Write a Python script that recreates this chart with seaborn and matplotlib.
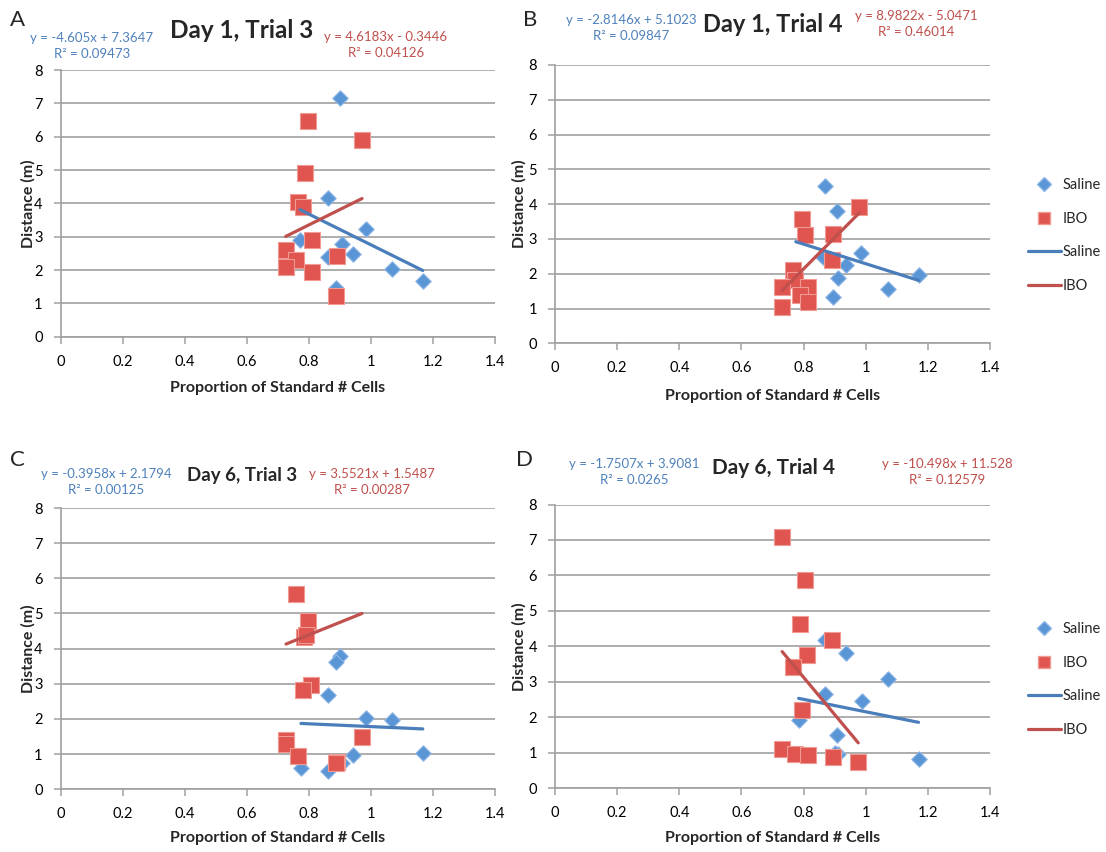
import numpy as np
import pandas as pd
import matplotlib
matplotlib.use("Agg")
import matplotlib.pyplot as plt
from matplotlib.lines import Line2D
import seaborn as sns

# ---------------- data ----------------
panel_letters = ["A", "B", "C", "D"]
panel_titles = ["Day 1, Trial 3", "Day 1, Trial 4", "Day 6, Trial 3", "Day 6, Trial 4"]

saline_x_A = [0.900, 0.862, 0.984, 0.772, 0.908, 0.862, 0.943, 1.070, 1.168, 0.889]
saline_y_A = [7.16, 4.17, 3.24, 2.91, 2.79, 2.39, 2.49, 2.04, 1.67, 1.45]
ibo_x_A = [0.797, 0.972, 0.788, 0.765, 0.780, 0.810, 0.726, 0.760, 0.726, 0.810, 0.891, 0.889]
ibo_y_A = [6.46, 5.90, 4.91, 4.04, 3.89, 2.91, 2.61, 2.31, 2.09, 1.94, 2.42, 1.22]

saline_x_B = [0.869, 0.906, 0.986, 0.938, 0.912, 0.896, 1.071, 1.170, 0.864, 0.775]
saline_y_B = [4.52, 3.81, 2.59, 2.25, 1.87, 1.34, 1.55, 1.96, 2.49, 2.00]
ibo_x_B = [0.979, 0.795, 0.805, 0.896, 0.890, 0.766, 0.773, 0.731, 0.813, 0.789, 0.813, 0.731]
ibo_y_B = [3.93, 3.56, 3.11, 3.14, 2.39, 2.11, 1.82, 1.61, 1.61, 1.39, 1.20, 1.03]

saline_x_C = [0.900, 0.889, 0.862, 0.984, 1.070, 1.168, 0.943, 0.908, 0.862, 0.775]
saline_y_C = [3.80, 3.63, 2.68, 2.02, 1.97, 1.04, 0.98, 0.74, 0.53, 0.60]
ibo_x_C = [0.759, 0.799, 0.786, 0.808, 0.781, 0.727, 0.727, 0.765, 0.972, 0.891, 0.790, 0.889]
ibo_y_C = [5.55, 4.79, 4.32, 2.97, 2.81, 1.40, 1.28, 0.95, 1.50, 0.79, 4.38, 0.75]

saline_x_D = [0.869, 0.938, 1.073, 0.869, 0.988, 0.784, 0.906, 0.912, 1.170, 0.900]
saline_y_D = [4.17, 3.81, 3.09, 2.67, 2.46, 1.92, 1.50, 0.98, 0.84, 1.00]
ibo_x_D = [0.731, 0.805, 0.789, 0.890, 0.811, 0.766, 0.795, 0.731, 0.773, 0.813, 0.896, 0.976]
ibo_y_D = [7.09, 5.88, 4.64, 4.17, 3.77, 3.42, 2.22, 1.10, 0.98, 0.94, 0.89, 0.73]

# trendline coefficients printed on the chart (slope, intercept)
saline_slope = [-4.605, -2.8146, -0.3958, -1.7507]
saline_intercept = [7.3647, 5.1023, 2.1794, 3.9081]
ibo_slope = [4.6183, 8.9822, 3.5521, -10.498]
ibo_intercept = [-0.3446, -5.0471, 1.5487, 11.528]

saline_eq = ["y = -4.605x + 7.3647\nR² = 0.09473", "y = -2.8146x + 5.1023\nR² = 0.09847",
             "y = -0.3958x + 2.1794\nR² = 0.00125", "y = -1.7507x + 3.9081\nR² = 0.0265"]
ibo_eq = ["y = 4.6183x - 0.3446\nR² = 0.04126", "y = 8.9822x - 5.0471\nR² = 0.46014",
          "y = 3.5521x + 1.5487\nR² = 0.00287", "y = -10.498x + 11.528\nR² = 0.12579"]

x_ticks = [0, 0.2, 0.4, 0.6, 0.8, 1.0, 1.2, 1.4]
x_tick_labels = ["0", "0.2", "0.4", "0.6", "0.8", "1", "1.2", "1.4"]
y_ticks = [0, 1, 2, 3, 4, 5, 6, 7, 8]
legend_labels = ["Saline", "IBO", "Saline", "IBO"]

data = {
    "A": (saline_x_A, saline_y_A, ibo_x_A, ibo_y_A),
    "B": (saline_x_B, saline_y_B, ibo_x_B, ibo_y_B),
    "C": (saline_x_C, saline_y_C, ibo_x_C, ibo_y_C),
    "D": (saline_x_D, saline_y_D, ibo_x_D, ibo_y_D),
}

# ---------------- style ----------------
sns.set_style("white")
plt.rcParams["font.family"] = ["Lato", "DejaVu Sans"]

W, H = 1106, 852
fig = plt.figure(figsize=(W / 100, H / 100), dpi=100)

BLUE = "#5A95D5"
BLUE_EDGE = "#8DB6E6"
RED = "#E0554F"
RED_EDGE = "#F09A94"
BLUE_LINE = "#4A7EBB"
RED_LINE = "#C0504D"
BLUE_TXT = "#4F81BD"
RED_TXT = "#C0504D"
GRID = "#A0A0A0"


def px_box(left, right, top, bottom):
    return [left / W, 1 - bottom / H, (right - left) / W, (bottom - top) / H]


def ftext(x, y, s, **kw):
    fig.text(x / W, 1 - y / H, s, ha=kw.pop("ha", "center"), va=kw.pop("va", "center"), **kw)


# axes pixel boxes: (left x=0, right x=1.4, top y=8, bottom y=0)
boxes = [px_box(60.7, 494.7, 70, 336.7), px_box(555, 990, 65, 343.3),
         px_box(60.7, 494.7, 508, 789.3), px_box(555, 990, 504.5, 788.3)]
xlabel_y = [388, 396, 838, 838]
ylabel_x = [28, 519, 28, 519]

# text layout per panel: letter, title, saline eq, ibo eq (pixel centres)
letter_pos = [(18, 20), (530, 20), (17, 460), (525, 460)]
title_pos = [(242, 31), (773, 25), (242, 476), (773, 468)]
title_size = [17.5, 17, 13.5, 15]
sal_eq_pos = [(92, 46), (631, 28), (106, 482), (634, 472)]
ibo_eq_pos = [(386, 45), (916, 24), (372, 482), (947, 472)]
legend_center = [None, 235.5, None, 679.5]

for i, key in enumerate(panel_letters):
    sx, sy, ix, iy = data[key]
    ax = fig.add_axes(boxes[i])

    sal = pd.DataFrame({"x": sx, "y": sy})
    ibo = pd.DataFrame({"x": ix, "y": iy})
    sns.scatterplot(data=sal, x="x", y="y", ax=ax, marker="D", s=62, color=BLUE,
                    edgecolor=BLUE_EDGE, linewidth=0.8, zorder=3, legend=False)
    sns.scatterplot(data=ibo, x="x", y="y", ax=ax, marker="s", s=140, color=RED,
                    edgecolor=RED_EDGE, linewidth=0.8, zorder=4, legend=False)

    sxr = np.array([min(sx), max(sx)])
    ixr = np.array([min(ix), max(ix)])
    sns.lineplot(x=sxr, y=saline_slope[i] * sxr + saline_intercept[i], ax=ax,
                 color=BLUE_LINE, linewidth=2.3, zorder=5)
    sns.lineplot(x=ixr, y=ibo_slope[i] * ixr + ibo_intercept[i], ax=ax,
                 color=RED_LINE, linewidth=2.3, zorder=5)

    ax.set_xlim(0, 1.4)
    ax.set_ylim(0, 8)
    ax.set_xticks(x_ticks)
    ax.set_xticklabels(x_tick_labels)
    ax.set_yticks(y_ticks)
    ax.set_axisbelow(True)
    ax.yaxis.grid(True, color=GRID, linewidth=1.2)
    ax.xaxis.grid(False)
    for sp in ["top", "right"]:
        ax.spines[sp].set_visible(False)
    for sp in ["left", "bottom"]:
        ax.spines[sp].set_color(GRID)
        ax.spines[sp].set_linewidth(1.2)
    ax.tick_params(axis="both", direction="out", length=5, width=1.1, color=GRID,
                   labelsize=10.5, labelcolor="black", bottom=True, left=True)
    ax.tick_params(axis="x", pad=8)
    ax.tick_params(axis="y", pad=8)

    ax.set_xlabel("Proportion of Standard # Cells", fontsize=11.5, fontweight="bold")
    ax.set_ylabel("Distance (m)", fontsize=11.5, fontweight="bold")
    bx = boxes[i]
    ax_bottom_px = (1 - bx[1]) * H
    ax_h_px = bx[3] * H
    ax_left_px = bx[0] * W
    ax_w_px = bx[2] * W
    ax.xaxis.set_label_coords(0.5, (ax_bottom_px - xlabel_y[i]) / ax_h_px)
    ax.xaxis.label.set_va("center")
    ax.yaxis.set_label_coords((ylabel_x[i] - ax_left_px) / ax_w_px, 0.5)
    ax.yaxis.label.set_va("center")

    # texts
    ftext(*letter_pos[i], panel_letters[i], fontsize=16)
    ftext(*title_pos[i], panel_titles[i], fontsize=title_size[i], fontweight="bold")
    ftext(*sal_eq_pos[i], saline_eq[i], fontsize=9.5, color=BLUE_TXT, linespacing=1.35,
          multialignment="center")
    ftext(*ibo_eq_pos[i], ibo_eq[i], fontsize=9.5, color=RED_TXT, linespacing=1.35,
          multialignment="center")

    if legend_center[i] is not None:
        handles = [
            Line2D([], [], linestyle="none", marker="D", markersize=7.2,
                   markerfacecolor=BLUE, markeredgecolor=BLUE_EDGE),
            Line2D([], [], linestyle="none", marker="s", markersize=8.5,
                   markerfacecolor=RED, markeredgecolor=RED_EDGE),
            Line2D([], [], color=BLUE_LINE, linewidth=2.3),
            Line2D([], [], color=RED_LINE, linewidth=2.3),
        ]
        ax.legend(handles, legend_labels, loc="center left", frameon=False,
                  bbox_to_anchor=(1028 / W, 1 - legend_center[i] / H),
                  bbox_transform=fig.transFigure, fontsize=10.5, borderpad=0,
                  borderaxespad=0, handlelength=2.25, handletextpad=0.15,
                  labelspacing=1.35)

fig.savefig("out.png", dpi=100)
